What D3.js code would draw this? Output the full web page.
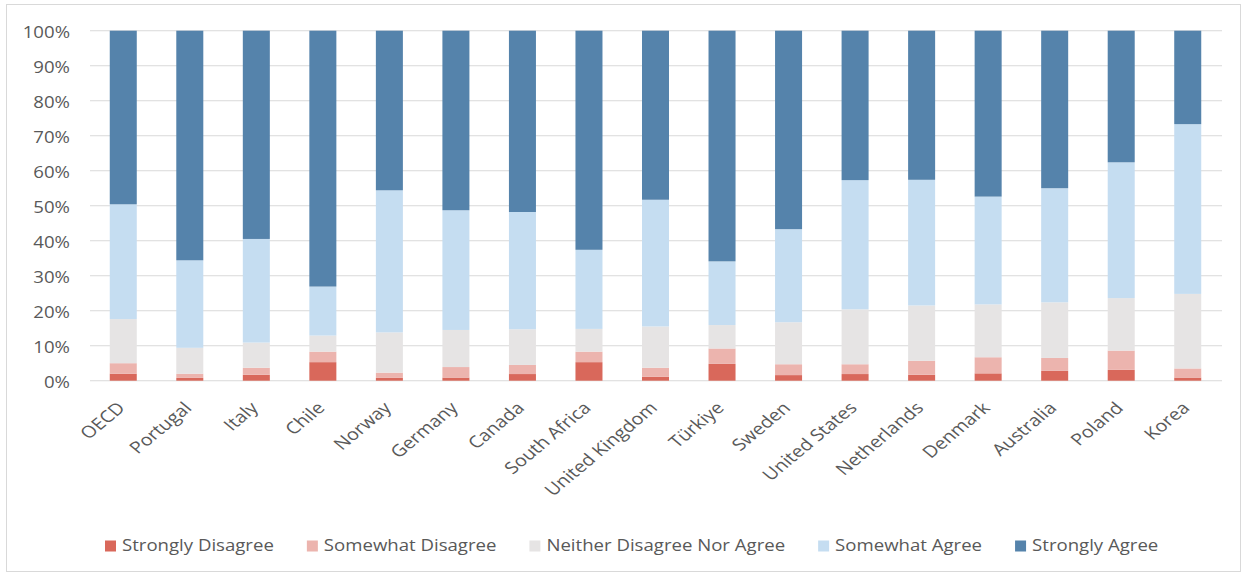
<!DOCTYPE html>
<html><head><meta charset="utf-8">
<script src="https://cdn.jsdelivr.net/npm/d3@7"></script>
<style>
html,body{margin:0;padding:0;background:#fff;}
svg{display:block;}
text{font-family:"Open Sans",sans-serif;fill:#595959;}
</style></head>
<body>
<svg id="chart" width="1245" height="575"></svg>
<script>
const categories = ["OECD","Portugal","Italy","Chile","Norway","Germany","Canada","South Africa","United Kingdom","Türkiye","Sweden","United States","Netherlands","Denmark","Australia","Poland","Korea"];
const seriesNames = ["Strongly Disagree","Somewhat Disagree","Neither Disagree Nor Agree","Somewhat Agree","Strongly Agree"];
const stronglyDisagree = [2.0,0.8,1.7,5.3,0.8,0.9,1.9,5.3,1.1,4.8,1.6,1.9,1.7,2.1,2.8,3.1,0.9];
const somewhatDisagree = [3.0,1.2,2.0,3.0,1.5,3.0,2.6,3.0,2.6,4.4,3.1,2.8,4.0,4.6,3.7,5.5,2.6];
const neither          = [12.6,7.4,7.2,4.6,11.5,10.6,10.2,6.5,11.8,6.7,12.0,15.7,15.8,15.1,15.9,15.0,21.3];
const somewhatAgree    = [32.8,25.0,29.6,14.0,40.6,34.2,33.5,22.6,36.2,18.2,26.6,36.9,35.9,30.8,32.6,38.8,48.5];
const stronglyAgree    = [49.6,65.6,59.5,73.1,45.6,51.3,51.8,62.6,48.3,65.9,56.7,42.7,42.6,47.4,45.0,37.6,26.7];
const yTicks = [0,10,20,30,40,50,60,70,80,90,100];
const colors = ["#d9685b","#ecb4ae","#e6e4e4","#c5ddf1","#5583ab"];

const K = 1.2;      // horizontal stretch seen in the reference picture
const FS = 15.5;    // legend / y-axis font size
const FSX = 16.5;   // category label font size
const seriesValues = [stronglyDisagree, somewhatDisagree, neither, somewhatAgree, stronglyAgree];
const rows = categories.map((c,i)=>{
  const r = {cat:c};
  seriesNames.forEach((s,j)=>r[s]=seriesValues[j][i]);
  return r;
});
const stack = d3.stack().keys(seriesNames)(rows);

const svg = d3.select("#chart");
svg.append("rect").attr("x",6.5).attr("y",4.5).attr("width",1234).attr("height",567)
  .attr("fill","none").attr("stroke","#d9d9d9");

const g = svg.append("g").attr("transform",`scale(${K},1)`);

const x = d3.scaleBand().domain(categories).range([90/K,1221/K]).paddingInner(0.594).paddingOuter(0.297);
const y = d3.scaleLinear().domain([0,100]).range([380.7,30.7]);

g.append("g").selectAll("line").data(yTicks).join("line")
  .attr("x1",90/K).attr("x2",1222/K)
  .attr("y1",d=>y(d)).attr("y2",d=>y(d))
  .attr("stroke","#d9d9d9").attr("stroke-width",1);

const yAxis = d3.axisLeft(y).tickValues(yTicks).tickFormat(d=>d+"%").tickSize(0).tickPadding(0);
const ya = g.append("g").attr("transform",`translate(${70/K},0)`).call(yAxis);
ya.select(".domain").remove();
ya.selectAll("text").attr("font-size",FS).attr("fill","#595959").attr("dy","0.45em")
  .style("font-family","'Open Sans',sans-serif");

g.append("g").selectAll("g").data(stack).join("g")
  .attr("fill",(d,i)=>colors[i])
  .selectAll("rect").data(d=>d).join("rect")
  .attr("x",d=>x(d.data.cat)).attr("width",x.bandwidth())
  .attr("y",d=>y(d[1])).attr("height",d=>y(d[0])-y(d[1]));

const xAxis = d3.axisBottom(x).tickSize(0).tickPadding(0);
const xa = g.append("g").attr("transform",`translate(0,${380.7})`).call(xAxis);
xa.select(".domain").remove();
xa.selectAll("text")
  .attr("font-size",FSX).attr("fill","#595959").style("font-family","'Open Sans',sans-serif")
  .attr("text-anchor","end").attr("y",0).attr("dy",0)
  .attr("transform",`translate(${3/K},28.3) rotate(-45)`);

const leg = g.append("g");
let cx = 0;
seriesNames.forEach((s,i)=>{
  const it = leg.append("g");
  it.append("rect").attr("x",0).attr("y",-5.5).attr("width",11/K).attr("height",11).attr("fill",colors[i]);
  const t = it.append("text").attr("x",17/K).attr("y",0).attr("dy","0.35em").attr("font-size",FS).text(s);
  const w = 17/K + t.node().getComputedTextLength();
  it.attr("transform",`translate(${cx},546)`);
  cx += w + 33/K;
});
leg.attr("transform",`translate(${105/K},0)`);
</script>
</body></html>
